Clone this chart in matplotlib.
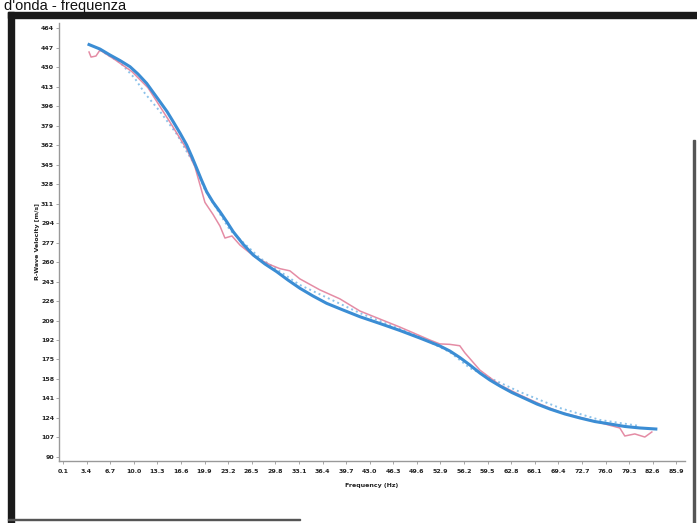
import matplotlib
matplotlib.use('Agg')
import matplotlib.pyplot as plt
from matplotlib.patches import Rectangle

# fitted dispersion curve (frequency Hz, velocity m/s)
fit_freq = [3.74, 5.27, 6.67, 8.07, 9.47, 10.59, 11.80, 12.68, 13.66, 14.65, 15.52, 16.46, 17.40,
            18.14, 18.80, 19.47, 20.19, 21.07, 22.05, 23.03, 23.91, 25.27, 26.71, 28.34, 29.98,
            31.56, 33.24, 35.06, 36.97, 39.25, 41.63, 44.42, 47.22, 50.02, 52.81, 54.21, 55.61,
            57.01, 58.41, 59.81, 61.21, 62.89, 64.71, 66.38, 68.20, 70.30, 72.40, 74.49, 76.59,
            78.69, 80.78, 83.02]
fit_vel = [449.6, 445.7, 440.5, 435.7, 430.3, 423.9, 415.8, 408.2, 399.8, 391.2, 382.3, 372.5, 362.0,
           351.6, 341.7, 331.5, 321.3, 312.3, 303.9, 294.9, 286.4, 275.7, 266.1, 258.3, 251.6,
           244.3, 237.1, 230.4, 224.0, 218.2, 212.3, 206.4, 200.3, 193.7, 186.8, 182.4, 176.7,
           170.2, 163.2, 157.1, 151.9, 146.2, 141.0, 136.2, 131.8, 127.5, 124.0, 120.9, 118.8,
           116.6, 115.3, 114.4]

# measured curve (pink)
meas_freq = [3.74, 4.02, 4.71, 5.27, 7.37, 9.75, 11.98, 15.06, 17.44, 18.55, 19.95, 21.07, 22.05,
             22.75, 23.73, 24.85, 26.95, 29.05, 30.44, 31.84, 33.23, 36.03, 38.82, 41.62, 47.21,
             51.41, 52.80, 54.20, 55.60, 56.30, 58.40, 61.20, 64.00, 66.79, 69.59, 73.79, 77.98,
             78.68, 80.08, 81.48, 82.46]
meas_vel = [443.1, 438.7, 439.6, 444.8, 436.4, 426.0, 412.0, 382.0, 358.0, 343.0, 312.0, 301.6, 291.4,
            280.9, 282.7, 274.8, 264.4, 257.7, 254.2, 252.3, 245.3, 235.7, 227.9, 217.3, 203.3,
            192.0, 188.6, 188.2, 187.0, 180.9, 165.8, 152.8, 144.1, 136.2, 129.2, 122.3, 115.3,
            108.3, 110.1, 107.4, 111.8]

# second measured series (light blue dots)
pick_freq = [5.27, 8.07, 10.16, 11.56, 13.66, 16.04, 17.44, 18.55, 19.95, 23.45, 27.64, 33.23,
             41.62, 50.01, 54.20, 57.0, 59.8, 64.0, 69.6, 75.2, 80.8]
pick_vel = [444.8, 434.1, 420.0, 407.0, 391.3, 371.3, 355.9, 344.6, 322.8, 287.9, 263.5, 240.0,
            215.5, 194.6, 181.5, 167.6, 158.9, 146.7, 132.7, 122.3, 117.0]

x_ticks = [round(0.1 + 3.3 * i, 1) for i in range(27)]
y_ticks = [90 + 17 * i for i in range(23)]

fig = plt.figure(figsize=(6.97, 5.23), dpi=100)
ax = fig.add_axes([59 / 697, 1 - 461 / 523, (685 - 59) / 697, (461 - 23) / 523])

ax.plot(pick_freq, pick_vel, linestyle=':', color='#8cc2ea', lw=1.4)
ax.plot(meas_freq, meas_vel, color='#e07895', lw=1.1, alpha=0.85)
ax.plot(fit_freq, fit_vel, color='#3b8dd4', lw=2.2)

ax.set_xlim(-0.46, 87.1)
ax.set_ylim(86.5, 468.4)
ax.set_xticks(x_ticks)
ax.set_xticklabels([f'{t:.1f}' for t in x_ticks])
ax.set_yticks(y_ticks)
ax.set_yticklabels([str(t) for t in y_ticks])
ax.tick_params(axis='both', labelsize=4.5, colors='#999999', length=2, width=0.6, labelcolor='#222222')
for lbl in ax.get_xticklabels() + ax.get_yticklabels():
    lbl.set_fontweight('bold')
ax.tick_params(axis='y', pad=1.5)
ax.tick_params(axis='x', pad=4)

for s in ['top', 'right']:
    ax.spines[s].set_visible(False)
for s in ['left', 'bottom']:
    ax.spines[s].set_color('#999999')
    ax.spines[s].set_linewidth(1.0)

ax.set_xlabel('Frequency (Hz)', fontsize=4.5, fontweight='bold', color='#222222', labelpad=6)
ax.set_ylabel('R-Wave Velocity [m/s]', fontsize=4.5, fontweight='bold', color='#222222', labelpad=1)

# scanned page frame
fig.patches.append(Rectangle((8 / 697, 0), 6 / 697, 1 - 12 / 523, transform=fig.transFigure,
                             color='#1a1a1a', zorder=0))
fig.patches.append(Rectangle((8 / 697, 1 - 18 / 523), 1 - 8 / 697, 6 / 523, transform=fig.transFigure,
                             color='#1a1a1a', zorder=0))
fig.patches.append(Rectangle((693 / 697, 0), 1.5 / 697, 1 - 140 / 523, transform=fig.transFigure,
                             color='#555555', zorder=0))
fig.patches.append(Rectangle((8 / 697, 3 / 523), 292 / 697, 1.5 / 523, transform=fig.transFigure,
                             color='#555555', zorder=0))

fig.text(4 / 697, 1 - 10 / 523, "d'onda - frequenza", fontsize=10.5, family='Liberation Sans',
         va='baseline', ha='left', color='#111111')

fig.savefig('out.png', dpi=100)
